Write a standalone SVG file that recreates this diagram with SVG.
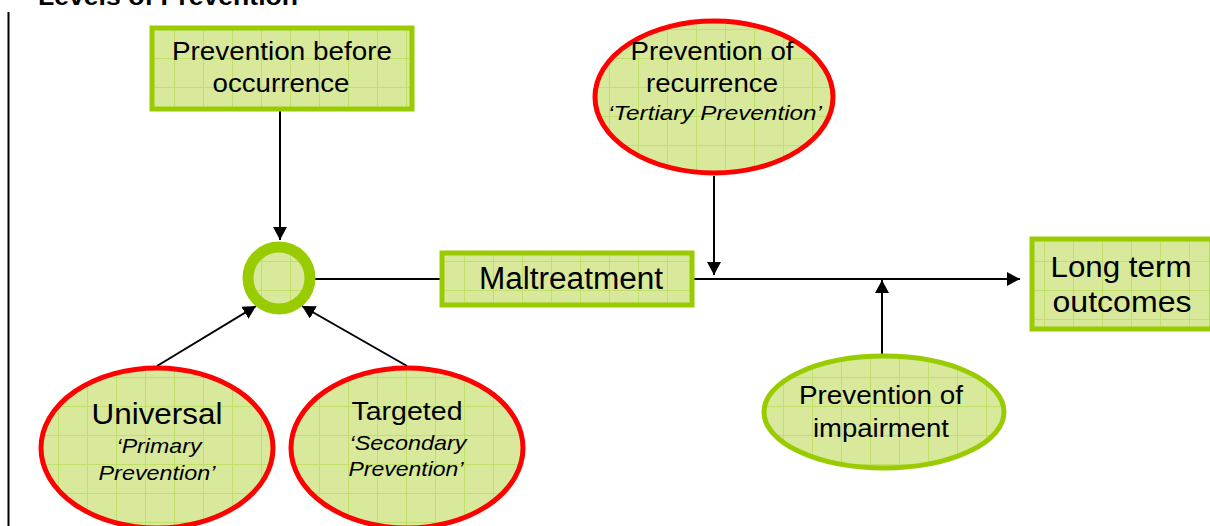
<svg xmlns="http://www.w3.org/2000/svg" width="1210" height="526" viewBox="0 0 1210 526">
<defs>
<pattern id="grid" width="29" height="29" patternUnits="userSpaceOnUse">
<rect width="29" height="29" fill="#d8e99c"/>
<path d="M0 0.5H29M0.5 0V29" stroke="#c2df6a" stroke-width="1" fill="none"/>
</pattern>
<marker id="arr" markerWidth="14" markerHeight="14" refX="13" refY="7" orient="auto" markerUnits="userSpaceOnUse">
<path d="M0 0L13 7L0 14Z" fill="#000"/>
</marker>
<style>
.box{fill:url(#grid);stroke:#99cc00;stroke-width:5}
.gell{fill:url(#grid);stroke:#99cc00;stroke-width:5}
.rell{fill:url(#grid);stroke:#ff0000;stroke-width:5}
.t{font-family:"Liberation Sans",Arial,sans-serif;fill:#000;text-anchor:middle}
.i{font-style:italic}
.c{stroke:#000;stroke-width:2;fill:none}
</style>
</defs>
<rect width="1210" height="526" fill="#fff"/>
<text x="38" y="5" font-family="Liberation Sans,Arial,sans-serif" font-weight="bold" font-size="24" textLength="260" lengthAdjust="spacingAndGlyphs">Levels of Prevention</text>
<line x1="8.5" y1="12" x2="8.5" y2="526" stroke="#000" stroke-width="2"/>
<g id="connectors">
<line class="c" x1="280" y1="110" x2="280" y2="240" marker-end="url(#arr)"/>
<line class="c" x1="157" y1="366" x2="256" y2="306" marker-end="url(#arr)"/>
<line class="c" x1="407" y1="366" x2="302" y2="306" marker-end="url(#arr)"/>
<line class="c" x1="315" y1="279" x2="440" y2="279"/>
<line class="c" x1="693" y1="279" x2="1020" y2="279" marker-end="url(#arr)"/>
<line class="c" x1="714" y1="176" x2="714" y2="275" marker-end="url(#arr)"/>
<line class="c" x1="882" y1="355" x2="882" y2="280" marker-end="url(#arr)"/>
</g>
<g id="before">
<rect class="box" x="152" y="28" width="260" height="81"/>
<text class="t" x="282" y="60" font-size="25" textLength="220" lengthAdjust="spacingAndGlyphs">Prevention before</text>
<text class="t" x="281" y="92" font-size="25" textLength="137" lengthAdjust="spacingAndGlyphs">occurrence</text>
</g>
<g id="hub">
<circle cx="279" cy="278" r="31" fill="url(#grid)" stroke="#99cc00" stroke-width="11"/>
</g>
<g id="maltreatment">
<rect class="box" x="442" y="253" width="250" height="52"/>
<text class="t" x="571" y="289" font-size="31" textLength="184" lengthAdjust="spacingAndGlyphs">Maltreatment</text>
</g>
<g id="outcomes">
<rect class="box" x="1032" y="239" width="180" height="90"/>
<text class="t" x="1121" y="277" font-size="29" textLength="141" lengthAdjust="spacingAndGlyphs">Long term</text>
<text class="t" x="1122" y="312" font-size="29" textLength="139" lengthAdjust="spacingAndGlyphs">outcomes</text>
</g>
<g id="tertiary">
<ellipse class="rell" cx="714" cy="97" rx="119" ry="76"/>
<text class="t" x="712" y="60" font-size="25" textLength="163" lengthAdjust="spacingAndGlyphs">Prevention of</text>
<text class="t" x="712" y="92" font-size="25" textLength="132" lengthAdjust="spacingAndGlyphs">recurrence</text>
<text class="t i" x="715" y="120" font-size="21" textLength="214" lengthAdjust="spacingAndGlyphs">‘Tertiary Prevention’</text>
</g>
<g id="universal">
<ellipse class="rell" cx="157" cy="448" rx="116" ry="80"/>
<text class="t" x="157" y="424" font-size="29" textLength="131" lengthAdjust="spacingAndGlyphs">Universal</text>
<text class="t i" x="159" y="453" font-size="21" textLength="85" lengthAdjust="spacingAndGlyphs">‘Primary</text>
<text class="t i" x="157" y="480" font-size="21" textLength="117" lengthAdjust="spacingAndGlyphs">Prevention’</text>
</g>
<g id="targeted">
<ellipse class="rell" cx="407" cy="448" rx="116" ry="80"/>
<text class="t" x="407" y="420" font-size="25" textLength="111" lengthAdjust="spacingAndGlyphs">Targeted</text>
<text class="t i" x="408" y="450" font-size="21" textLength="117" lengthAdjust="spacingAndGlyphs">‘Secondary</text>
<text class="t i" x="406" y="476" font-size="21" textLength="115" lengthAdjust="spacingAndGlyphs">Prevention’</text>
</g>
<g id="impairment">
<ellipse class="gell" cx="884" cy="412" rx="120" ry="56"/>
<text class="t" x="881" y="404" font-size="25" textLength="164" lengthAdjust="spacingAndGlyphs">Prevention of</text>
<text class="t" x="881" y="437" font-size="25" textLength="136" lengthAdjust="spacingAndGlyphs">impairment</text>
</g>
</svg>
